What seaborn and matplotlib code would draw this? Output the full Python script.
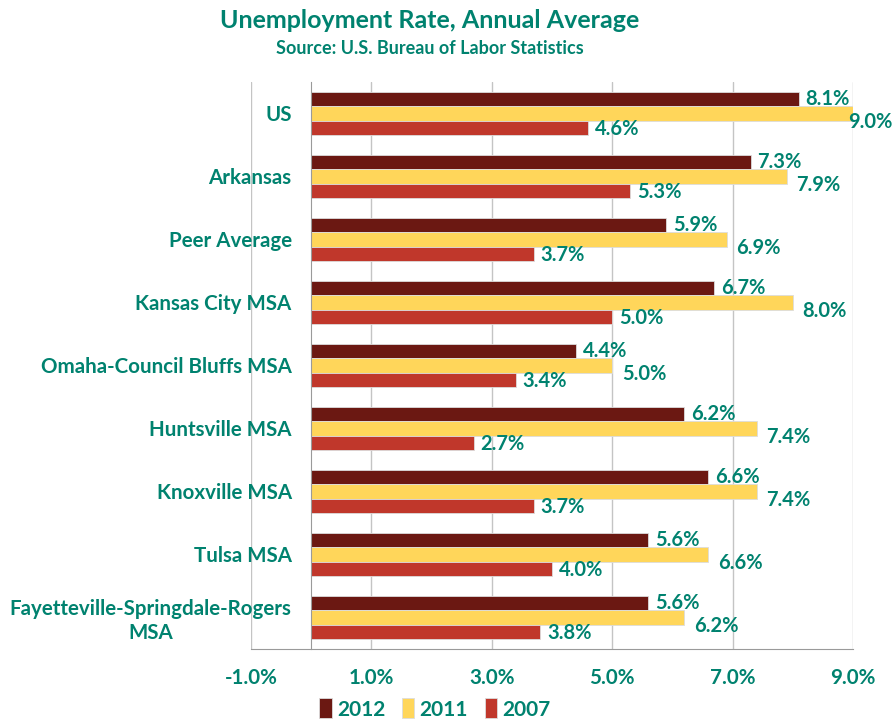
import numpy as np
import pandas as pd
import matplotlib
matplotlib.use("Agg")
import matplotlib.pyplot as plt
import seaborn as sns

categories = ["US", "Arkansas", "Peer Average", "Kansas City MSA",
              "Omaha-Council Bluffs MSA", "Huntsville MSA", "Knoxville MSA",
              "Tulsa MSA", "Fayetteville-Springdale-Rogers\nMSA"]
years = ["2012", "2011", "2007"]
rate_2012 = [8.1, 7.3, 5.9, 6.7, 4.4, 6.2, 6.6, 5.6, 5.6]
rate_2011 = [9.0, 7.9, 6.9, 8.0, 5.0, 7.4, 7.4, 6.6, 6.2]
rate_2007 = [4.6, 5.3, 3.7, 5.0, 3.4, 2.7, 3.7, 4.0, 3.8]
x_ticks = [-1, 1, 3, 5, 7, 9]

teal = "#00826F"
colors = {"2012": "#6B1812", "2011": "#FFD65A", "2007": "#C0372B"}

df = pd.DataFrame({
    "Area": categories * 3,
    "Year": ["2012"] * 9 + ["2011"] * 9 + ["2007"] * 9,
    "Rate": rate_2012 + rate_2011 + rate_2007,
})

sns.set_style("white")
plt.rcParams["font.family"] = ["Lato", "DejaVu Sans"]
plt.rcParams["font.weight"] = "bold"

fig = plt.figure(figsize=(8.95, 7.21), dpi=100)
ax = fig.add_axes([0.2804, 0.0999, 0.6726, 0.7864])

sns.barplot(data=df, x="Rate", y="Area", hue="Year", hue_order=years,
            order=categories, palette=colors, saturation=1, orient="h",
            width=0.67, edgecolor="#dcdcdc", linewidth=0.6, ax=ax, zorder=3)

# value labels, offsets per series (points)
x_shift = {"2012": 5, "2011": 7, "2007": 5}
y_shift = {"2012": 0, "2011": -6, "2007": -1}
labels_drawn = []
for yr, cont in zip(years, ax.containers):
    for bar in cont:
        w = bar.get_width()
        yc = bar.get_y() + bar.get_height() / 2
        t = ax.annotate(f"{w:.1f}%", (w, yc), xytext=(x_shift[yr], y_shift[yr]),
                        textcoords="offset points", va="center", ha="left",
                        color=teal, fontsize=14.5, fontweight="bold", zorder=5,
                        annotation_clip=False)
        labels_drawn.append(t)

ax.set_xlim(-1, 9)
ax.set_ylim(len(categories) - 0.5, -0.5)
ax.set_xticks(x_ticks)
ax.set_xticklabels([f"{t:.1f}%" for t in x_ticks])
ax.grid(axis="x", color="#c4c4c4", linewidth=1, zorder=0)
ax.grid(axis="y", visible=False)
ax.set_axisbelow(True)

for s in ["top", "right"]:
    ax.spines[s].set_visible(False)
ax.spines["left"].set_position(("data", 0))
ax.spines["left"].set_color("#9a9a9a")
ax.spines["bottom"].set_color("#9a9a9a")
ax.spines["left"].set_zorder(4)

ax.set_yticks(np.arange(len(categories)))
ax.set_yticklabels(categories)
ax.set_yticks(np.arange(-0.5, len(categories)), minor=True)
ax.tick_params(axis="y", which="major", length=0, pad=14,
               labelsize=14.8, labelcolor=teal)
ax.tick_params(axis="y", which="minor", length=5, color="#9a9a9a",
               direction="out")
ax.tick_params(axis="x", length=5, color="#9a9a9a", pad=9,
               labelsize=14.8, labelcolor=teal)
for lbl in ax.get_yticklabels():
    lbl.set_multialignment("center")
    lbl.set_fontweight("bold")
for lbl in ax.get_xticklabels():
    lbl.set_fontweight("bold")

ax.set_xlabel("")
ax.set_ylabel("")

handles, labels = ax.get_legend_handles_labels()
ax.get_legend().remove()
fig.legend(handles, labels, loc="lower center", bbox_to_anchor=(0.486, -0.024),
           ncol=3, frameon=False, handlelength=0.6, handleheight=1.1,
           handletextpad=0.25, columnspacing=0.8,
           prop={"size": 15, "weight": "bold"}, labelcolor=teal)

fig.text(0.48, 0.972, "Unemployment Rate, Annual Average", ha="center",
         va="center", color=teal, fontsize=18, fontweight="bold")
fig.text(0.48, 0.933, "Source: U.S. Bureau of Labor Statistics", ha="center",
         va="center", color=teal, fontsize=13, fontweight="bold")

# keep value labels inside the canvas
fig.canvas.draw()
renderer = fig.canvas.get_renderer()
fig_w = fig.bbox.width
for t in labels_drawn:
    bb = t.get_window_extent(renderer)
    if bb.x1 > fig_w - 2:
        dx = (bb.x1 - (fig_w - 2)) * 72 / fig.dpi
        ox, oy = t.xyann
        t.xyann = (ox - dx, oy)

fig.savefig("out.png", dpi=100)
